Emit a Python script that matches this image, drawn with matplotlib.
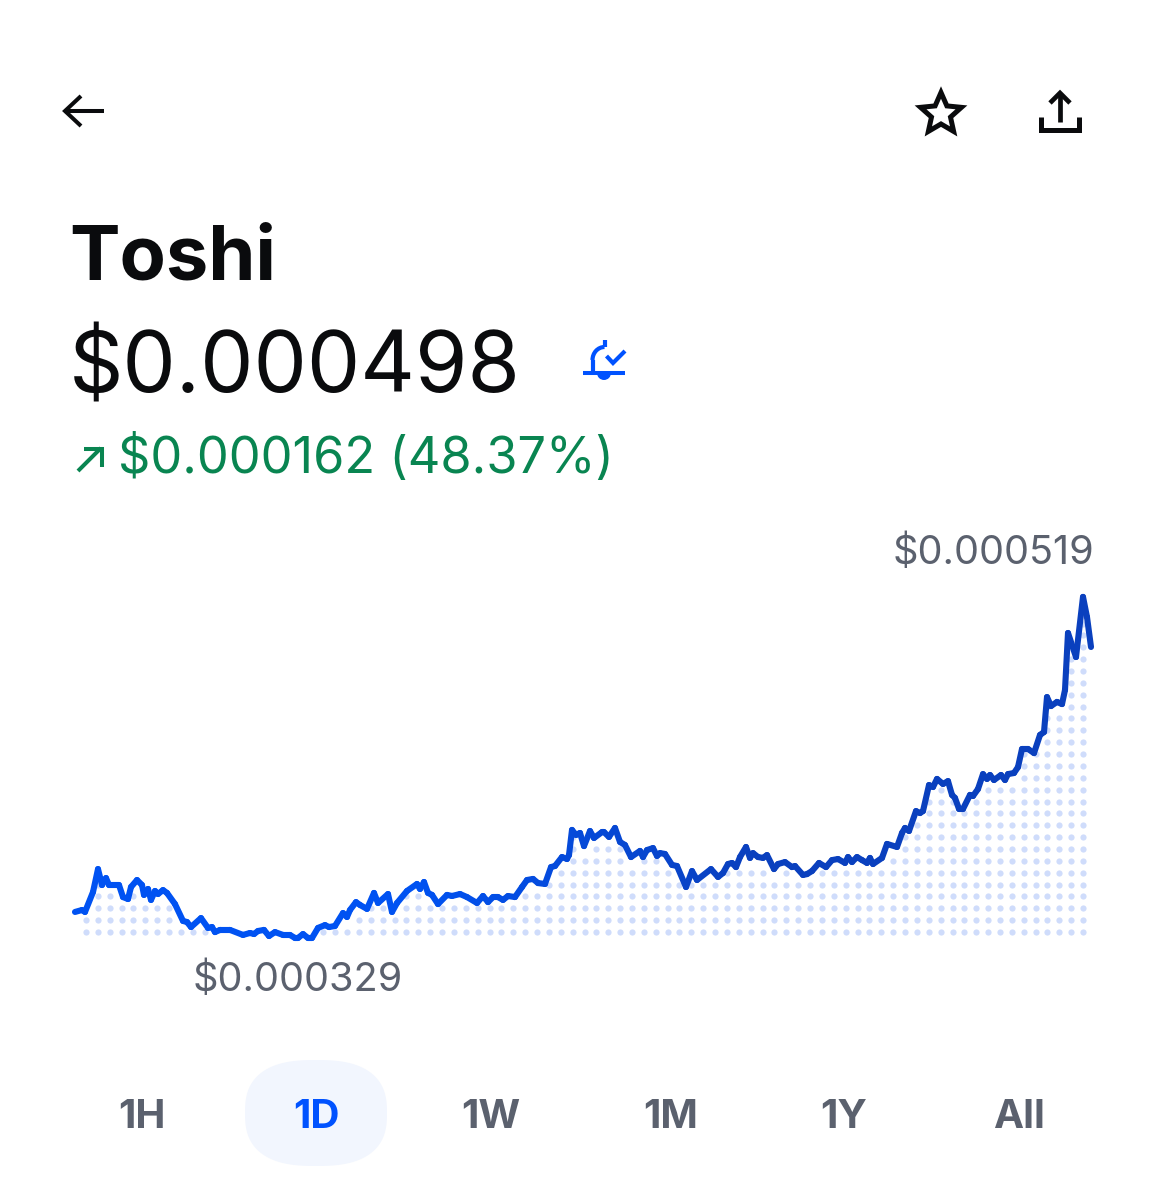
import numpy as np
import matplotlib
matplotlib.use("Agg")
import matplotlib.pyplot as plt
from matplotlib.collections import LineCollection
from matplotlib.colors import LinearSegmentedColormap
from matplotlib.patches import Ellipse, Polygon, Wedge, Arc

# ---- data -------------------------------------------------------------
title = "Toshi"
price_label = "$0.000498"
change_label = "$0.000162 (48.37%)"
high_label = "$0.000519"
low_label = "$0.000329"
tabs = ["1H", "1D", "1W", "1M", "1Y", "All"]
active_tab = "1D"

# elapsed time (1016 ticks = 24h); price in millionths of a dollar
elapsed_a = [0,7,10,18,23,27,31,34,44,48,53,56,62,67,69,73,76,80,83,88,92,100,108,112,116,126,133,137,140,145,155,168,175,179,183,189,194,200,208,215,220,223,228,233,237,243,250,254,260,268,272,275,281,285,292,299,303,313,317,322,332,342,345,349,353,357,363,372,377,385]
price_a = [343.5,344.6,343.5,354.6,367.4,358.5,362.4,358.5,358.5,351.8,350.7,357.4,361.3,358.5,353,356.3,350.2,355.2,353.5,355.7,354.1,347.9,338.5,337.9,335.1,340.1,334.6,335.1,332.3,333.5,333.5,330.7,331.8,331.2,332.9,333.5,330.1,332.3,330.7,330.7,329,329,331.2,329,329,334.6,336.2,335.1,335.7,342.9,340.7,344.6,349,347.4,345.2,354.1,348.5,353.5,343.5,348.5,355.2,359.1,356.3,360.2,354.1,353,347.9,353,352.4,353.5]
elapsed_b = [392,402,408,413,418,423,428,433,440,447,452,458,463,470,476,480,487,492,494,497,501,505,509,515,519,527,529,534,540,545,550,556,565,568,572,578,582,585,590,597,602,611,617,622,636,643,648,653,657,661,665,671,675,678,683,688,692,699,703,710,717,720]
price_b = [351.8,348.5,352.4,349,351.8,351.8,350.2,352.4,351.8,357.4,361.3,361.9,359.6,359.1,368.5,369.1,374.1,373,375.2,389.2,386.4,387.5,380.2,388.6,384.7,388,388,385.3,390.3,382.5,380.8,374.1,377.5,374.1,378,379.1,374.7,376.3,375.8,369.7,369.1,357.4,366.3,361.3,367.4,363,365.2,370.2,370.8,368.5,374.1,379.7,373.6,376.3,374.1,373.6,375.2,367.4,370.2,371.3,368.5,369.1]
elapsed_c = [728,732,737,744,751,757,763,770,773,777,782,787,792,795,798,807,812,822,827,830,834,841,845,848,854,858,862,868,873,877,880,884,888,895,898,903,908,912,915,919,926,930,933,939,943,947,953,959,965,969,972,976,982,987,990,993,1001,1008,1012,1016]
price_c = [364.1,364.6,366.3,370.8,368.5,372.4,373,370.8,374.1,371.3,374.1,372.4,370.8,373.6,370.2,373.6,381.4,379.7,387.5,390.3,388.6,399.7,398.6,399.7,414.2,413.1,417.6,414.8,416.4,408.7,407,400.9,400.9,408.7,408.1,412,420.3,417.6,419.8,417,419.8,417,420.3,420.9,424.2,434.3,434.3,432,442.1,443.7,463.2,458.2,460.5,459.3,467.1,498.9,485.5,519,507.8,491.1]

LINE_LEFT = "#0052F2"
LINE_RIGHT = "#0A40BE"
DOT = "#CFDCFB"
GREY = "#5B616E"
INK = "#0A0B0D"
GREEN = "#098551"
BLUE = "#0052FF"

W, H = 1166, 1200
fig = plt.figure(figsize=(W / 100, H / 100), dpi=100, facecolor="white")

# ---- page furniture in pixel space -------------------------------------
ui = fig.add_axes([0, 0, 1, 1], zorder=1)
ui.set_xlim(0, W); ui.set_ylim(H, 0); ui.axis("off")

FONT = ["Inter", "DejaVu Sans"]
ui.text(69, 279, title, fontsize=54.5, fontweight="bold", color=INK, family=FONT, va="baseline", ha="left")
ui.text(69, 392, price_label, fontsize=61, color=INK, family=FONT, va="baseline", ha="left")
ui.text(118, 473, change_label, fontsize=36.4, color=GREEN, family=FONT, va="baseline", ha="left")
ui.text(1094, 564, high_label, fontsize=28.6, color=GREY, family=FONT, va="baseline", ha="right")
ui.text(193, 991, low_label, fontsize=28.5, color=GREY, family=FONT, va="baseline", ha="left")

# pill behind the active tab: a superellipse traced through the library's polygon
th = np.linspace(0, 2 * np.pi, 200)
n = 2.6
pill_x = 316 + 71 * np.sign(np.cos(th)) * np.abs(np.cos(th)) ** (2 / n)
pill_y = 1113 + 53 * np.sign(np.sin(th)) * np.abs(np.sin(th)) ** (2 / n)
ui.add_patch(Polygon(np.c_[pill_x, pill_y], closed=True, fc="#F2F6FE", ec="none"))

tab_x = [142, 316, 491, 671, 844, 1019]
for name, x in zip(tabs, tab_x):
    ui.text(x, 1128, name, fontsize=29, fontweight="bold", family=FONT, ha="center", va="baseline",
            color=BLUE if name == active_tab else GREY)

lw = dict(solid_capstyle="butt", solid_joinstyle="miter")
# back arrow
ui.plot([64, 104], [111, 111], color=INK, lw=2.9, **lw)
ui.plot([81, 65, 81], [96, 111, 126], color=INK, lw=2.9, **lw)
# star
ang = np.deg2rad(-90 + np.arange(10) * 36)
rad = np.where(np.arange(10) % 2 == 0, 21.5, 10)
ui.add_patch(Polygon(np.c_[941 + rad * np.cos(ang), 114 + rad * np.sin(ang)], closed=True,
                     fc="none", ec=INK, lw=3.6, joinstyle="miter"))
# share
ui.plot([1041, 1041, 1079, 1079], [117, 130, 130, 117], color=INK, lw=3.6, **lw)
ui.plot([1060, 1060], [94, 122], color=INK, lw=3.4, **lw)
ui.plot([1050, 1060, 1070], [103, 93, 103], color=INK, lw=3.4, **lw)
# bell with tick
ui.plot([583, 625], [372.5, 372.5], color=BLUE, lw=2.9, **lw)
ui.add_patch(Wedge((604, 373), 7, 0, 180, fc=BLUE, ec="none"))
ui.add_patch(Arc((604.5, 360), 24, 26, theta1=180, theta2=270, color=BLUE, lw=3.0))
ui.plot([592.5, 592.5], [360, 372], color=BLUE, lw=3.0, **lw)
ui.plot([604.5, 604.5], [347, 340], color=BLUE, lw=3.0, **lw)
ui.plot([606.5, 613, 625], [356, 363, 351], color=BLUE, lw=3.0, **lw)
# green arrow
ui.plot([78, 101], [471, 448], color=GREEN, lw=2.9, **lw)
ui.plot([84, 102, 102], [449, 449, 467], color=GREEN, lw=2.9, **lw)

# ---- chart -------------------------------------------------------------
ax = fig.add_axes([75 / W, 1 - 938 / H, 1016 / W, 342 / H], zorder=2)
ax.set_xlim(0, 1016); ax.set_ylim(329, 519.5); ax.axis("off")
ax.patch.set_alpha(0)

t = np.array(elapsed_a + elapsed_b + elapsed_c, float)
p = np.array(price_a + price_b + price_c, float)

# dot field below the line
gx = np.arange(11, 1012, 11.87)
gy = 332.3 + np.arange(0, 52) * 6.61
XX, YY = np.meshgrid(gx, gy)
keep = YY < np.interp(XX, t, p) - 2.6
ax.scatter(XX[keep], YY[keep], s=20, c=DOT, linewidths=0, clip_on=False, zorder=1)

# line with a slight left-to-right colour drift
pts = np.c_[t, p]
segs = np.stack([pts[:-1], pts[1:]], axis=1)
cmap = LinearSegmentedColormap.from_list("line", [LINE_LEFT, LINE_LEFT, LINE_RIGHT, LINE_RIGHT])
lc = LineCollection(segs, array=(t[:-1] + t[1:]) / 2 / t.max(), cmap=cmap, linewidths=4.4,
                    capstyle="round", joinstyle="round", clip_on=False, zorder=2)
ax.add_collection(lc)

fig.savefig("out.png", dpi=100, facecolor="white")
